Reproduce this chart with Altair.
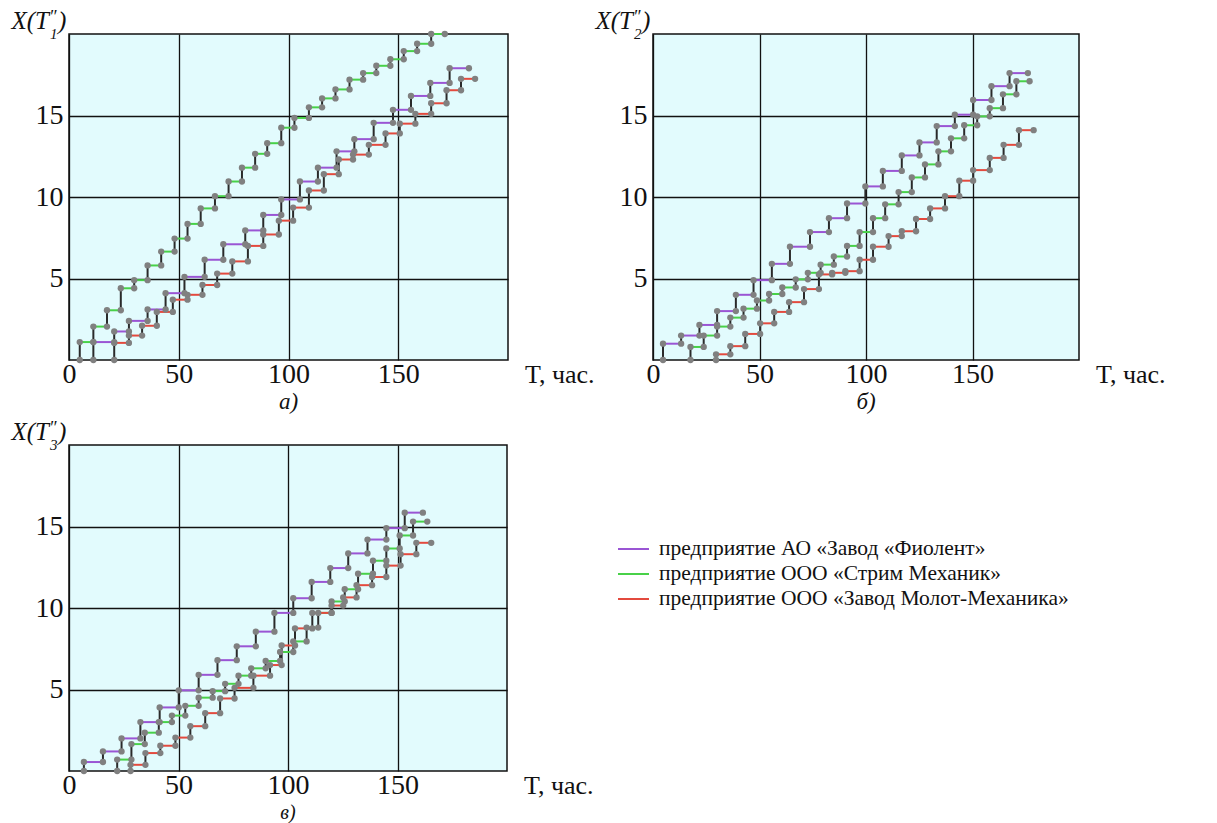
import altair as alt
import pandas as pd

SERIES = [
    "предприятие АО «Завод «Фиолент»",
    "предприятие ООО «Стрим Механик»",
    "предприятие ООО «Завод Молот-Механика»",
]
COLORS = ["#9a55d4", "#48d148", "#e34a3e"]

X_TICKS = [0, 50, 100, 150]
Y_TICKS = [5, 10, 15]
PANEL_LETTERS = ["а)", "б)", "в)"]
X_TITLE = "T, час."

# ---- panel а) : step times and levels ----
a_purple_t = [11.1, 20.6, 27.3, 35.8, 44, 52.6, 61.8, 70.3, 80.3, 88.5, 96.7, 105.2, 113.4,
              121.9, 130, 138.8, 147.6, 155.8, 164.6, 173.4, 182.2]
a_purple_y = [1.1, 1.75, 2.4, 3.1, 4.1, 5.1, 6.15, 7.1, 7.95, 8.9, 9.85, 10.95, 11.8, 12.8,
              13.55, 14.55, 15.35, 16.2, 17.0, 17.9]
a_green_t = [4.9, 11.1, 17.3, 23.6, 29.7, 35.8, 42, 48.1, 54, 60, 66.5, 72.7, 78.8, 84.8, 90.3,
             96.7, 102.7, 109.3, 115.3, 121.4, 127.8, 134, 140, 146.4, 152.5, 158.6, 165, 171.2]
a_green_y = [1.1, 2.05, 3.05, 4.4, 4.9, 5.8, 6.65, 7.45, 8.35, 9.3, 10.05, 10.95, 11.8, 12.65,
             13.3, 14.25, 14.85, 15.5, 16.05, 16.6, 17.2, 17.6, 18.05, 18.45, 18.95, 19.4, 20.0]
a_red_t = [20.6, 27.3, 33.3, 40, 47.3, 54, 60.8, 67.5, 74.4, 81.5, 88.5, 95.6, 102.1, 109.3,
           116.1, 122.9, 129.4, 136.6, 144.2, 150.7, 157.8, 165, 172, 178.6, 185]
a_red_y = [1.05, 1.5, 2.1, 2.95, 3.7, 4.0, 4.6, 5.3, 6.05, 7.0, 7.7, 8.55, 9.35, 10.4, 11.4,
           12.3, 12.6, 13.2, 13.9, 14.5, 15.1, 15.75, 16.55, 17.25]

# ---- panel б) ----
b_purple_t = [4.7, 13.2, 21.8, 30.1, 38.9, 47.2, 55.8, 64.3, 73.7, 82.6, 91.1, 99.7, 107.9,
              116.8, 125.1, 133.2, 141.7, 150.3, 158.9, 167.4, 176]
b_purple_y = [1.0, 1.5, 2.15, 3.0, 4.0, 4.9, 5.9, 6.95, 7.85, 8.7, 9.6, 10.65, 11.6, 12.55,
              13.35, 14.35, 15.05, 15.95, 16.8, 17.6]
b_green_t = [17.6, 23.8, 30.1, 36.3, 42.5, 48.8, 54.5, 60.7, 67, 72.7, 78.7, 84.9, 91.1, 97,
             103.3, 109, 115.3, 121.5, 127.7, 134, 139.9, 146.1, 152.2, 158.1, 164.3, 170.6, 176.8]
b_green_y = [0.8, 1.5, 2.05, 2.6, 3.15, 3.65, 4.05, 4.45, 4.95, 5.35, 5.85, 6.35, 7.0, 7.85,
             8.7, 9.55, 10.3, 11.2, 12.0, 12.8, 13.6, 14.4, 14.95, 15.45, 16.3, 17.1]
b_red_t = [29.6, 36.3, 43.3, 50.3, 56.9, 63.9, 70.9, 77.9, 84.1, 90.3, 97, 103.3, 110.6, 116.8,
           123.5, 130.1, 137.1, 143.8, 150.3, 158.1, 164.6, 171.8, 178.7]
b_red_y = [0.35, 0.85, 1.6, 2.25, 2.95, 3.55, 4.35, 5.25, 5.35, 5.45, 6.15, 6.95, 7.6, 7.9,
           8.65, 9.3, 10.05, 11.0, 11.65, 12.4, 13.2, 14.1]

# ---- panel в) ----
c_purple_t = [6.8, 15.5, 24, 32.6, 41.4, 50.1, 59.2, 67.8, 76.6, 85.3, 93.8, 102.4, 110.8,
              119.3, 127.5, 136.3, 144.9, 153.3, 161.6]
c_purple_y = [0.55, 1.2, 2.0, 3.0, 3.9, 4.95, 5.9, 6.8, 7.65, 8.55, 9.7, 10.6, 11.6, 12.45,
              13.35, 14.2, 14.9, 15.85]
c_green_t = [22, 28.5, 34.6, 41, 47, 53.1, 59.2, 65.6, 71.3, 77.4, 83.2, 89.8, 96.4, 102.4,
             108.5, 113.8, 119.9, 125.9, 132, 138.8, 144.9, 151, 157.1, 163.6]
c_green_y = [0.7, 1.65, 2.35, 3.0, 3.4, 4.0, 4.5, 4.9, 5.35, 5.85, 6.3, 6.75, 7.3, 7.95, 8.8,
             9.7, 10.4, 11.15, 12.1, 12.9, 13.65, 14.45, 15.3]
c_red_t = [28.1, 34.9, 41.7, 48.6, 55.4, 62.2, 69, 75.6, 84.2, 91.8, 97.1, 103.2, 111.1, 119.9,
           125.2, 131.3, 138.4, 144.9, 151.4, 158.6, 165.4]
c_red_y = [0.38, 1.1, 1.55, 2.05, 2.75, 3.55, 4.45, 5.1, 5.85, 6.5, 7.7, 8.75, 9.7, 10.15,
           10.65, 11.4, 11.9, 12.6, 13.3, 14.0]

SERIF = "Liberation Serif, Times New Roman, DejaVu Serif, serif"
BG = "#e2fbfd"
INK = "#111"


def build_tables(series_data):
    hs, vs, ps = [], [], []
    for name, (ts, ys) in zip(SERIES, series_data):
        prev = 0.0
        for k, lev in enumerate(ys):
            hs.append(dict(s=name, t0=ts[k], t1=ts[k + 1], y=lev))
            vs.append(dict(s=name, t=ts[k], y0=prev, y1=lev))
            ps.append(dict(s=name, t=ts[k], y=prev))
            ps.append(dict(s=name, t=ts[k], y=lev))
            prev = lev
        ps.append(dict(s=name, t=ts[-1], y=prev))
    return pd.DataFrame(hs), pd.DataFrame(vs), pd.DataFrame(ps)


def panel(series_data, w, h, sub, letter, letter_dy, letter_size):
    hdf, vdf, pdf = build_tables(series_data)
    xs = alt.Scale(domain=[0, 200], nice=False, zero=False)
    ys = alt.Scale(domain=[0, 20], nice=False, zero=False)
    xax = alt.Axis(values=X_TICKS, grid=True, gridColor=INK, gridWidth=1.3, ticks=False,
                   domain=False, labelFont=SERIF, labelFontSize=28, labelColor=INK,
                   labelPadding=0, labelFlush=False, title=None)
    yax = alt.Axis(values=Y_TICKS, grid=True, gridColor=INK, gridWidth=1.3, ticks=False,
                   domain=False, labelFont=SERIF, labelFontSize=28, labelColor=INK,
                   labelPadding=6, title=None)
    hor = alt.Chart(hdf).mark_rule(strokeWidth=2).encode(
        x=alt.X("t0:Q", scale=xs, axis=xax),
        x2="t1:Q",
        y=alt.Y("y:Q", scale=ys, axis=yax),
        color=alt.Color("s:N", scale=alt.Scale(domain=SERIES, range=COLORS), legend=None),
    )
    ver = alt.Chart(vdf).mark_rule(strokeWidth=2, color="#2a2a2a").encode(
        x=alt.X("t:Q", scale=xs), y=alt.Y("y0:Q", scale=ys), y2="y1:Q"
    )
    pts = alt.Chart(pdf).mark_circle(size=40, color="#808080", opacity=1).encode(
        x=alt.X("t:Q", scale=xs), y=alt.Y("y:Q", scale=ys)
    )
    one = pd.DataFrame({"k": [0]})
    t_main = alt.Chart(one).mark_text(text="X(T", font=SERIF, fontSize=25, fontStyle="italic",
                                      align="right", baseline="alphabetic", color=INK).encode(
        x=alt.value(-20), y=alt.value(-5))
    t_prime = alt.Chart(one).mark_text(text="″", font=SERIF, fontSize=18, fontStyle="italic",
                                       align="left", baseline="alphabetic", color=INK).encode(
        x=alt.value(-20), y=alt.value(-11))
    t_sub = alt.Chart(one).mark_text(text=sub, font=SERIF, fontSize=15, fontStyle="italic",
                                     align="left", baseline="alphabetic", color=INK).encode(
        x=alt.value(-19), y=alt.value(5))
    t_par = alt.Chart(one).mark_text(text=")", font=SERIF, fontSize=25, fontStyle="italic",
                                     align="left", baseline="alphabetic", color=INK).encode(
        x=alt.value(-11), y=alt.value(-5))
    t_x = alt.Chart(one).mark_text(text=X_TITLE, font=SERIF, fontSize=26, align="left",
                                   baseline="middle", color=INK).encode(
        x=alt.value(w + 17), y=alt.value(h + 15))
    t_l = alt.Chart(one).mark_text(text=letter, font=SERIF, fontSize=letter_size,
                                   fontStyle="italic", align="center", baseline="middle",
                                   color=INK).encode(
        x=alt.value(w / 2), y=alt.value(h + letter_dy))
    return alt.layer(hor, ver, pts, t_main, t_prime, t_sub, t_par, t_x, t_l).properties(
        width=w, height=h,
        view=alt.ViewBackground(fill=BG, stroke=INK, strokeWidth=1.5),
    )


pa = panel([(a_purple_t, a_purple_y), (a_green_t, a_green_y), (a_red_t, a_red_y)],
           439, 326, "1", PANEL_LETTERS[0], 42, 23)
pb = panel([(b_purple_t, b_purple_y), (b_green_t, b_green_y), (b_red_t, b_red_y)],
           426, 326, "2", PANEL_LETTERS[1], 42, 23)
pc = panel([(c_purple_t, c_purple_y), (c_green_t, c_green_y), (c_red_t, c_red_y)],
           438, 326, "3", PANEL_LETTERS[2], 42, 20)

leg_df = pd.DataFrame({"s": SERIES, "row": [0, 1, 2]})
ly = alt.Y("row:Q", scale=alt.Scale(domain=[0, 2], range=[104, 154]), axis=None)
leg_lines = alt.Chart(leg_df).mark_rule(strokeWidth=2).encode(
    x=alt.value(-35), x2=alt.value(-4), y=ly,
    color=alt.Color("s:N", scale=alt.Scale(domain=SERIES, range=COLORS), legend=None),
)
leg_text = alt.Chart(leg_df).mark_text(font=SERIF, fontSize=21.5, align="left",
                                       baseline="middle", color=INK).encode(
    x=alt.value(6), y=ly, text="s:N")
leg = alt.layer(leg_lines, leg_text).properties(
    width=380, height=326, view=alt.ViewBackground(strokeWidth=0, fillOpacity=0))

chart = alt.concat(pa, pb, pc, leg, columns=2, spacing={"row": 85, "column": 145},
                   bounds="flush").properties(
    background="white", padding={"left": 2, "top": 0, "right": 5, "bottom": 2}
).configure_view(strokeWidth=0)

chart.save("out.html", embed_options={"renderer": "svg", "actions": False})
